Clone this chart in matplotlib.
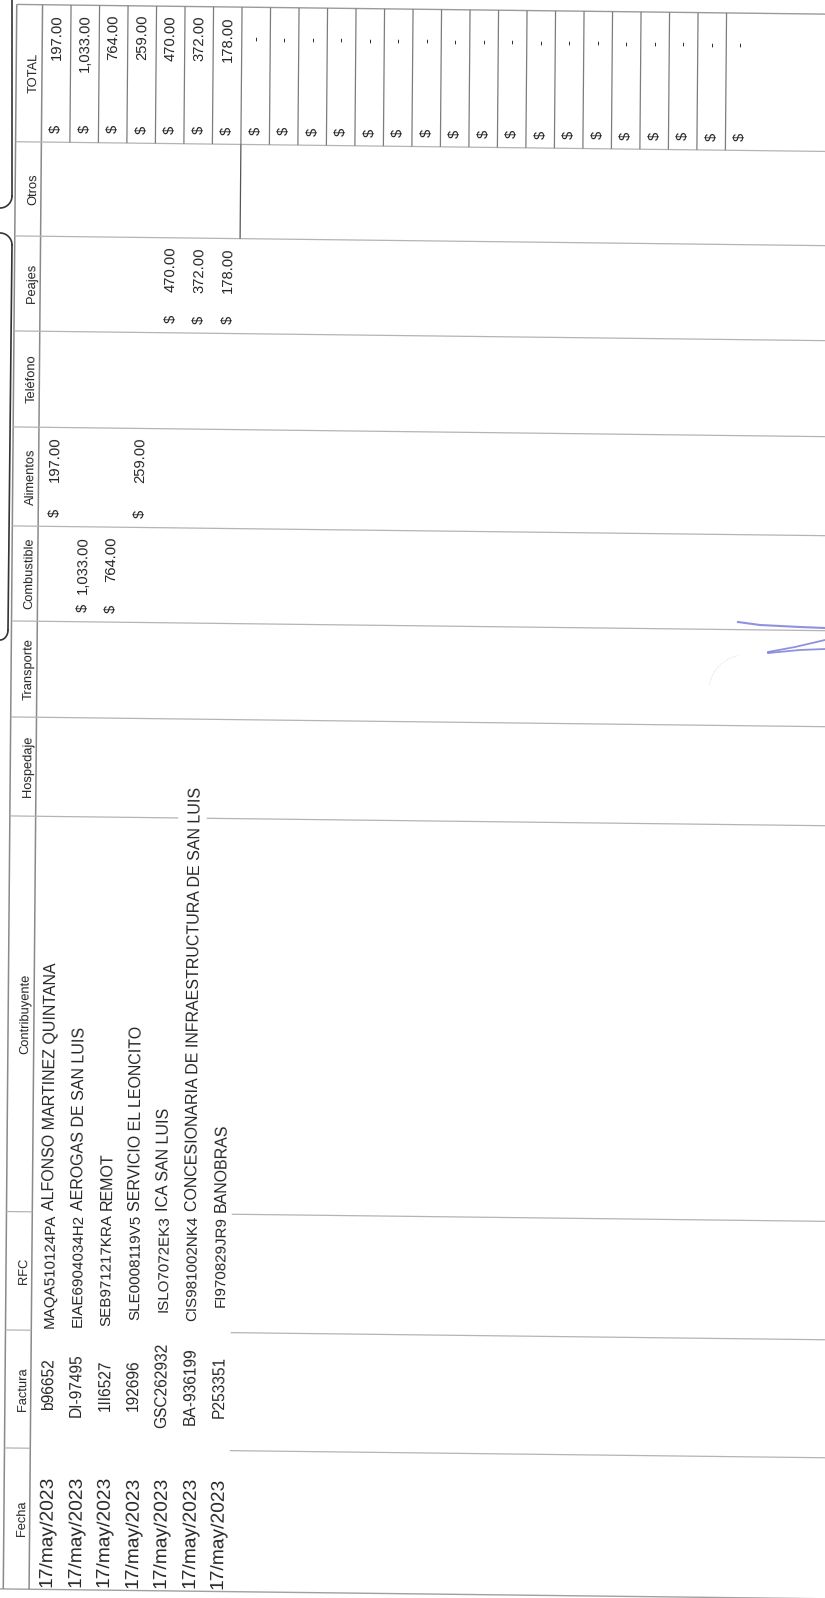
import numpy as np
import matplotlib
matplotlib.use('Agg')
import matplotlib.pyplot as plt
from matplotlib.transforms import Affine2D, Bbox, TransformedBbox

# ---------------- data ----------------
headers = ['Fecha', 'Factura', 'RFC', 'Contribuyente', 'Hospedaje', 'Transporte',
           'Combustible', 'Alimentos', 'Teléfono', 'Peajes', 'Otros', 'TOTAL']
fechas = ['17/may/2023'] * 7
facturas = ['b96652', 'DI-97495', '1II6527', '192696', 'GSC262932', 'BA-936199', 'P253351']
rfcs = ['MAQA510124PA', 'EIAE6904034H2', 'SEB971217KRA', 'SLE0008119V5',
        'ISLO7072EK3', 'CIS981002NK4', 'FI970829JR9']
contribuyentes = ['ALFONSO MARTINEZ QUINTANA', 'AEROGAS DE SAN LUIS', 'REMOT',
                  'SERVICIO EL LEONCITO', 'ICA SAN LUIS',
                  'CONCESIONARIA DE INFRAESTRUCTURA DE SAN LUIS', 'BANOBRAS']
hospedaje = [None] * 7
transporte = [None] * 7
combustible = [None, 1033.00, 764.00, None, None, None, None]
alimentos = [197.00, None, None, 259.00, None, None, None]
telefono = [None] * 7
peajes = [None, None, None, None, 470.00, 372.00, 178.00]
otros = [None] * 7
n_total_rows = 25

# ---------------- layout ----------------
W, H = 825, 1598
fig = plt.figure(figsize=(W / 100, H / 100), dpi=100)
ax = fig.add_axes([0, 0, 1, 1])
ax.set_xlim(0, W)
ax.set_ylim(H, 0)
ax.axis('off')

# slight scan skew
a, b = -0.0085, 0.012
M = np.array([[1, a, -800 * a], [b, 1, -100 * b], [0, 0, 1]])
T = Affine2D(M) + ax.transData
ROT = 89.5

# column edges along the page (bottom = Fecha ... top = TOTAL)
edges = [1590, 1449, 1331, 1212.6, 817, 718, 622, 527, 428, 332, 237, 142.8, 5.5]
def col(i):
    return edges[i + 1], edges[i]   # (top, bottom) in page coords

u_left = 10
u0 = 35.8
pitch = 28.5
u_right = 860

LINE = '#b4b4b4'
DARK = '#8c8c8c'
TXT = '#262626'
FONT = 'Liberation Sans'

def hline(v, u1, u2, color=LINE, lw=0.9):
    ax.plot([u1, u2], [v, v], color=color, lw=lw, transform=T, solid_capstyle='butt')

def vline(u, v1, v2, color=DARK, lw=0.9):
    ax.plot([u, u], [v1, v2], color=color, lw=lw, transform=T, solid_capstyle='butt')

def vtext(u, v, s, ha='left', size=11.3, clip=None):
    t = ax.text(u, v, s, rotation=ROT, rotation_mode='anchor', ha=ha, va='baseline',
                fontsize=size, color=TXT, family=FONT, transform=T)
    if clip is not None:
        t.set_clip_box(clip)
        t.set_clip_on(True)
    return t

# outer borders
hline(edges[-1], u_left, u_right, color='#9a9a9a', lw=1.0)
hline(edges[0], 0, u_right, color='#a0a0a0', lw=1.0)
vline(u_left, edges[-1], edges[0], color='#8a8a8a', lw=1.1)
vline(u0, edges[-1], edges[0], color='#8a8a8a', lw=1.1)

# internal column boundaries
end7 = u0 + 7 * pitch
for i, v in enumerate(edges[1:-1], start=1):
    if i in (1, 2, 3):
        hline(v, u_left, u0)
        hline(v, end7, u_right)
    elif i == 4:
        hline(v, u_left, u0 + 5 * pitch)
        hline(v, u0 + 6 * pitch, u_right)
    else:
        hline(v, u_left, u_right)

# row separators in TOTAL column, and one in Otros
tt, tb = col(11)
for k in range(1, n_total_rows):
    vline(u0 + k * pitch, tt, tb, color='#7c7c7c', lw=0.9)
ot, ob = col(10)
vline(u0 + 7 * pitch, ot, ob, color='#555555', lw=0.9)

# header labels
for i, h in enumerate(headers):
    top, bot = col(i)
    vtext(31, (top + bot) / 2, h, ha='center', size=9.3)

def base(k, off):
    return u0 + (k + 1) * pitch - off

# text columns
for k in range(7):
    top, bot = col(0)
    vtext(base(k, 6.0), bot - 3, fechas[k], ha='left', size=13.8)
    top, bot = col(1)
    vtext(base(k, 6.5), (top + bot) / 2 - 5, facturas[k], ha='center', size=11.2)
    top, bot = col(2)
    clip = TransformedBbox(Bbox([[u0 + k * pitch, top - 6], [u0 + (k + 1) * pitch, bot + 1]]), T)
    vtext(base(k, 6.5), top + 1.5, rfcs[k], ha='right', size=10.9, clip=clip)
    top, bot = col(3)
    vtext(base(k, 6.5), bot - 2.5, contribuyentes[k], ha='left', size=11.5)

def money(i, k, val, off=8.0, size=10.6):
    top, bot = col(i)
    u = base(k, off)
    vtext(u, bot - 9.5, '$', ha='left', size=size)
    if val:
        vtext(u, top + 9, f'{val:,.2f}', ha='right', size=size)
    else:
        vtext(u, top + 29, '-', ha='right', size=size)

series = [(4, hospedaje), (5, transporte), (6, combustible), (7, alimentos),
          (8, telefono), (9, peajes), (10, otros)]
for i, vals in series:
    for k, v in enumerate(vals):
        if v:
            money(i, k, v)

for k in range(n_total_rows):
    tot = 0.0
    if k < 7:
        tot = sum((vals[k] or 0) for _, vals in series)
    money(11, k, tot, off=10.0)

# form bracket outlines at the page edge
ax.plot([12, 12], [0, 196], color='#333333', lw=1.2)
th = np.linspace(0, np.pi / 2, 20)
ax.plot(12 - 12 * (1 - np.cos(th)), 196 + 12 * np.sin(th), color='#333333', lw=1.2)
ax.plot(12 - 12 * (1 - np.cos(th)), 245 - 12 * np.sin(th), color='#333333', lw=1.2)
ax.plot([12, 8], [245, 630], color='#333333', lw=1.2)
ax.plot(8 - 8 * (1 - np.cos(th)), 630 + 10 * np.sin(th), color='#333333', lw=1.2)

# signature strokes
sig = '#7477d6'
ax.plot([738, 760, 800, 825], [622, 625, 627, 628], color=sig, lw=1.5, alpha=0.8)
ax.plot([768, 795, 825], [652, 647, 640], color=sig, lw=1.3, alpha=0.8)
ax.plot([768, 800, 825], [653, 650, 649], color=sig, lw=1.3, alpha=0.8)
ph = np.linspace(0.2, 1.4, 15)
ax.plot(745 - 40 * np.sin(ph) * 0.9, 655 + 40 * (1 - np.cos(ph)) * 0.9, color='#c0c0e4',
        lw=0.6, ls=':', alpha=0.8)

fig.savefig('out.png', dpi=100, facecolor='white')
